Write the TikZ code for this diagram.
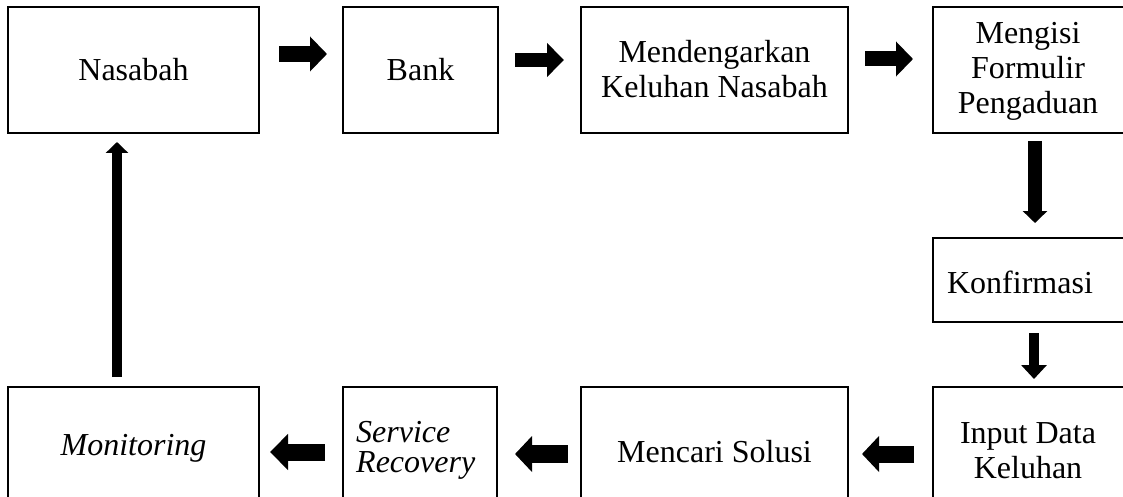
\documentclass[tikz,border=0pt]{standalone}
\usepackage{fontspec}
\setmainfont{Liberation Serif}
\usetikzlibrary{arrows.meta}
\begin{document}
\begin{tikzpicture}[x=1pt,y=-1pt,
  box/.style={draw, line width=2.5pt, inner sep=0pt, outer sep=0pt},
  lbl/.style={font=\fontsize{32}{35}\selectfont, inner sep=0pt, align=center},
  blk/.style n args={3}{line width=#1, -{Triangle[length=#3, width=#2]}}]
\useasboundingbox (0,0) rectangle (1123,497);
\clip (0,0) rectangle (1123,497);
% boxes
\node[box, minimum width=251, minimum height=126] (nasabah) at (133.5,70) {};
\node[box, minimum width=155, minimum height=126] (bank) at (420.5,70) {};
\node[box, minimum width=267, minimum height=126] (mend) at (714.5,70) {};
\node[box, minimum width=194, minimum height=126] (mengisi) at (1030,70) {};
\node[box, minimum width=194, minimum height=84] (konf) at (1030,280) {};
\node[box, minimum width=194, minimum height=123] (input) at (1030,448.5) {};
\node[box, minimum width=267, minimum height=123] (mencari) at (714.5,448.5) {};
\node[box, minimum width=154, minimum height=123] (service) at (420,448.5) {};
\node[box, minimum width=251, minimum height=123] (monitoring) at (133.5,448.5) {};
% texts
\node[lbl] (tnasabah) at (133.5,74) {Nasabah\strut};
\node[lbl] (tbank) at (420.5,74) {Bank\strut};
\node[lbl] (tmend) at (714.5,73.5) {Mendengarkan\strut\\Keluhan Nasabah\strut};
\node[lbl] (tmengisi) at (1028,72) {Mengisi\strut\\Formulir\strut\\Pengaduan\strut};
\node[lbl] (tkonf) at (1020,286) {Konfirmasi\strut};
\node[lbl] (tinput) at (1028,453.5) {Input Data\strut\\Keluhan\strut};
\node[lbl] (tmencari) at (714.5,455) {Mencari Solusi\strut};
\node[lbl, align=left, anchor=west, font=\fontsize{32}{35}\selectfont\itshape] (tservice) at (356,450) {Service\strut\\[-5pt]Recovery\strut};
\node[lbl, font=\fontsize{32}{35}\selectfont\itshape] (tmonitoring) at (133.5,448) {Monitoring\strut};
% arrow ends
\coordinate (a1s) at (279,54);   \coordinate (a1e) at (327,54);
\coordinate (a2s) at (515,60);   \coordinate (a2e) at (564,60);
\coordinate (a3s) at (865,59);   \coordinate (a3e) at (913,59);
\coordinate (a4s) at (1035,141); \coordinate (a4e) at (1035,223);
\coordinate (a5s) at (1034,333); \coordinate (a5e) at (1034,379);
\coordinate (a6s) at (914,454);  \coordinate (a6e) at (862,454);
\coordinate (a7s) at (568,454);  \coordinate (a7e) at (515,454);
\coordinate (a8s) at (325,452);  \coordinate (a8e) at (270,452);
\coordinate (a9s) at (117,377);  \coordinate (a9e) at (117,142);
% arrows
\draw[blk={16pt}{34pt}{17pt}] (a1s) -- (a1e);
\draw[blk={14pt}{33pt}{17pt}] (a2s) -- (a2e);
\draw[blk={15pt}{34pt}{17pt}] (a3s) -- (a3e);
\draw[blk={14pt}{24pt}{12pt}] (a4s) -- (a4e);
\draw[blk={10pt}{25pt}{14pt}] (a5s) -- (a5e);
\draw[blk={17pt}{35pt}{17pt}] (a6s) -- (a6e);
\draw[blk={18pt}{35pt}{17pt}] (a7s) -- (a7e);
\draw[blk={17pt}{35pt}{18pt}] (a8s) -- (a8e);
\draw[blk={10pt}{22pt}{11pt}] (a9s) -- (a9e);
\end{tikzpicture}
\end{document}
